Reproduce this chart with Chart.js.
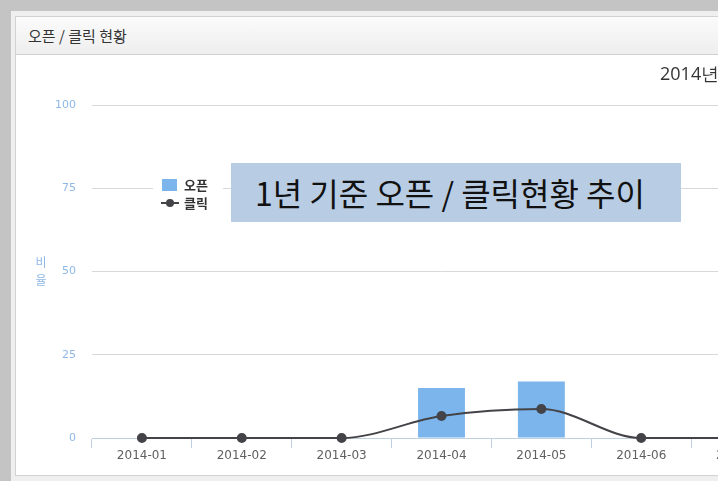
<!DOCTYPE html>
<html>
<head>
<meta charset="utf-8">
<script src="https://cdn.jsdelivr.net/npm/chart.js@4"></script>
<style>
  html, body { margin: 0; padding: 0; }
  body {
    width: 718px; height: 481px; overflow: hidden; position: relative;
    background: #efefef; font-family: "Noto Sans CJK KR", "Noto Sans", sans-serif;
  }
  .band-top { position: absolute; left: 0; top: 0; width: 718px; height: 11px; background: #c4c4c4; }
  .band-left { position: absolute; left: 0; top: 0; width: 11px; height: 481px; background: #c4c4c4; }
  .panel {
    position: absolute; left: 15px; top: 16px; width: 820px; height: 458px;
    border: 1px solid #d2d2d2; background: #fff;
  }
  .panel-head {
    height: 37px; line-height: 37px; padding-left: 12px;
    background: linear-gradient(#fbfbfb, #eeeeee);
    border-bottom: 1px solid #d0d0d0;
    font-size: 15px; color: #333;
  }
  #chartWrap { position: absolute; left: 0; top: 38px; }
  .note {
    position: absolute; left: 231px; top: 163px; width: 426px; height: 59px;
    padding-left: 24px; background: #b8cce4; color: #111;
    font-size: 32px; line-height: 59px; white-space: nowrap;
  }
</style>
</head>
<body>
<div class="band-top"></div>
<div class="band-left"></div>
<div class="panel">
  <div class="panel-head">오픈 / 클릭 현황</div>
  <div id="chartWrap"><canvas id="chart" width="800" height="415"></canvas></div>
</div>
<div class="note">1년 기준 오픈 / 클릭현황 추이</div>

<script>
// data
const months = ["2014-01", "2014-02", "2014-03", "2014-04", "2014-05", "2014-06", "2014-07"];
const openData = [0, 0, 0, 15, 17, 0, 0];
const clickData = [0, 0, 0, 6.6, 8.7, 0, 0];
const yTicks = [0, 25, 50, 75, 100];
const chartTitle = "2014년 오픈 / 클릭 현황";
const yTitle = ["비", "율"];

Chart.defaults.font.family = "'DejaVu Sans', sans-serif";

// title, stacked y-axis label and floating legend
const extras = {
    id: "extras",
    afterDraw(chart) {
        const ctx = chart.ctx;
        ctx.save();
        ctx.textBaseline = "middle";
        ctx.fillStyle = "#333";
        ctx.font = "18px 'Open Sans', sans-serif";
        ctx.textAlign = "left";
        ctx.fillText(chartTitle, 644, 20);

        ctx.fillStyle = "#8fb8e6";
        ctx.font = "12px 'Noto Sans CJK KR', sans-serif";
        ctx.textAlign = "center";
        ctx.fillText(yTitle[0], 25, 207);
        ctx.fillText(yTitle[1], 25, 225);

        // legend
        ctx.fillStyle = "#fff";
        ctx.fillRect(137, 119, 70, 39);
        ctx.fillStyle = "#7cb5ec";
        ctx.fillRect(146, 124, 15, 12);
        ctx.strokeStyle = "#434348";
        ctx.lineWidth = 2;
        ctx.beginPath();
        ctx.moveTo(145, 148);
        ctx.lineTo(163, 148);
        ctx.stroke();
        ctx.fillStyle = "#434348";
        ctx.beginPath();
        ctx.arc(154, 148, 4, 0, Math.PI * 2);
        ctx.fill();
        ctx.fillStyle = "#333";
        ctx.font = "bold 13px 'Noto Sans CJK KR', sans-serif";
        ctx.textAlign = "left";
        ctx.fillText("오픈", 168, 130);
        ctx.fillText("클릭", 168, 148);
        ctx.restore();
    }
};

const ctx = document.getElementById("chart").getContext("2d");
const myChart = new Chart(ctx, {
    data: {
        labels: months,
        datasets: [{
            type: "line",
            label: "클릭",
            data: clickData,
            borderColor: "#434348",
            backgroundColor: "#434348",
            borderWidth: 2,
            pointRadius: 4,
            pointBackgroundColor: "#434348",
            cubicInterpolationMode: "monotone",
            clip: false,
            order: 0
        }, {
            type: "bar",
            label: "오픈",
            data: openData,
            backgroundColor: "#7cb5ec",
            barPercentage: 0.47,
            categoryPercentage: 1,
            order: 1
        }]
    },
    options: {
        responsive: false,
        animation: false,
        devicePixelRatio: 1,
        layout: { padding: { top: 50, left: 0, right: 25, bottom: 0 } },
        plugins: {
            legend: { display: false },
            tooltip: { enabled: false }
        },
        scales: {
            x: {
                offset: true,
                grid: {
                    offset: true,
                    drawOnChartArea: false,
                    color: "#c0d0e0",
                    tickLength: 10
                },
                border: { color: "#c0d0e0" },
                ticks: { color: "#606060", font: { size: 12 }, padding: 1, maxRotation: 0 },
                afterFit(scale) { scale.height = 32; }
            },
            y: {
                min: 0,
                max: 100,
                afterBuildTicks(scale) { scale.ticks = yTicks.map(v => ({ value: v })); },
                grid: { color: "#d8d8d8", drawTicks: false },
                border: { display: false },
                ticks: { color: "#8fb8e6", font: { size: 11 }, padding: 16 },
                afterFit(scale) { scale.width = 76; }
            }
        }
    },
    plugins: [extras]
});
</script>
</body>
</html>
